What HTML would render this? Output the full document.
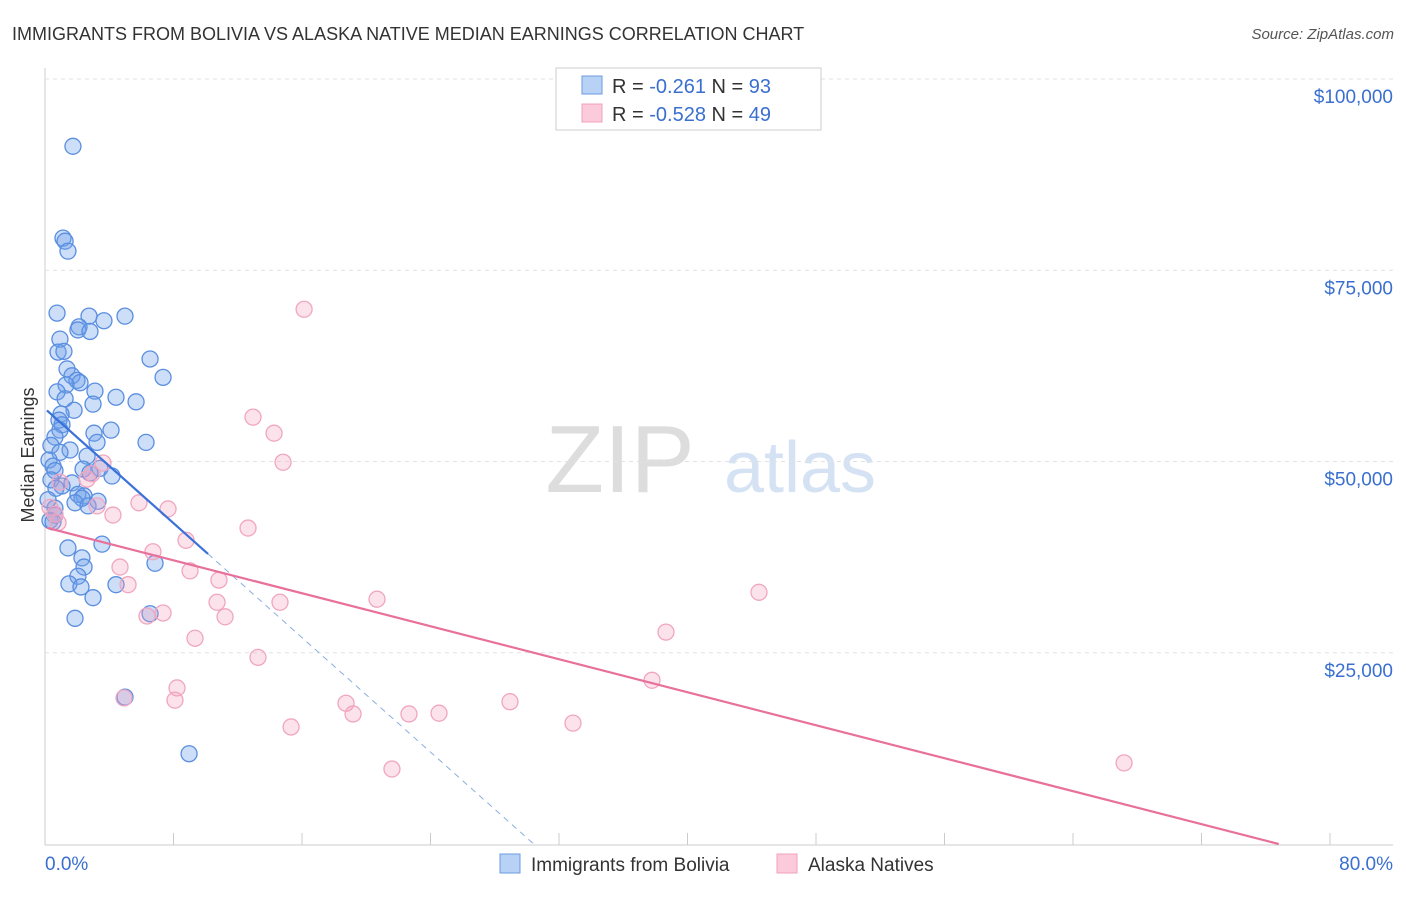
<!DOCTYPE html>
<html><head><meta charset="utf-8"><style>
body{margin:0;background:#fff;font-family:"Liberation Sans",sans-serif}
svg text{font-family:"Liberation Sans",sans-serif}
</style></head><body>
<svg id="c" width="1406" height="892">
<text x="12" y="40" font-size="18" fill="#333">IMMIGRANTS FROM BOLIVIA VS ALASKA NATIVE MEDIAN EARNINGS CORRELATION CHART</text>
<text x="1394" y="39" font-size="15" fill="#555" text-anchor="end" font-style="italic">Source: ZipAtlas.com</text>
<text x="620" y="492" font-size="96" fill="#ddd" font-family="Liberation Serif" text-anchor="middle">ZIP</text>
<text x="800" y="492" font-size="72" fill="#d4e2f4" text-anchor="middle">atlas</text>
<text x="34" y="455" font-size="18" fill="#333" text-anchor="middle" transform="rotate(-90 34 455)">Median Earnings</text>
<g id="grid"></g><g id="pts"></g><g id="lines"></g>
<g>
<rect x="556" y="68" width="265" height="62" fill="#fff" stroke="#ccc"/>
<rect x="582" y="76" width="20" height="18" fill="#b8d2f5" stroke="#6a9be0"/>
<text x="612" y="93" font-size="20" fill="#333">R = <tspan fill="#3a6fd0"> -0.261</tspan>   N = <tspan fill="#3a6fd0">93</tspan></text>
<rect x="582" y="104" width="20" height="18" fill="#fbcadb" stroke="#f0a0bc"/>
<text x="612" y="121" font-size="20" fill="#333">R = <tspan fill="#3a6fd0">-0.528</tspan>   N = <tspan fill="#3a6fd0">49</tspan></text>
</g>
<g>
<rect x="500" y="854" width="20" height="19" fill="#b8d2f5" stroke="#6a9be0"/>
<text x="531" y="871" font-size="19" fill="#333">Immigrants from Bolivia</text>
<rect x="777" y="854" width="20" height="19" fill="#fbcadb" stroke="#f0a0bc"/>
<text x="808" y="871" font-size="19" fill="#333">Alaska Natives</text>
</g>
<text x="45" y="870" font-size="19" fill="#3a6fd0">0.0%</text>
<text x="1393" y="870" font-size="19" fill="#3a6fd0" text-anchor="end">80.0%</text>
</svg>
<script>
const yTicks=[25000,50000,75000,100000];
const yTickLabels=["$25,000","$50,000","$75,000","$100,000"];
const blueX=[1.74,1.12,1.25,1.43,0.75,2.74,4.98,3.67,2.12,2.05,2.8,0.93,0.81,1.18,6.54,7.35,1.37,1.68,1.99,2.18,1.31,0.75,3.11,4.42,1.25,2.99,5.67,1.81,1.0,0.87,1.06,0.93,4.11,3.05,6.29,3.24,0.62,0.37,1.56,0.93,2.62,0.25,0.5,3.42,2.37,0.62,2.8,4.17,0.37,1.68,1.06,0.68,2.05,2.43,2.3,3.3,1.87,2.68,0.62,0.31,0.5,1.43,3.55,2.3,2.43,2.05,1.49,4.42,2.24,2.99,6.85,1.87,6.54,4.98,8.97,0.19,0.62];
const blueY=[91200,79200,78800,77500,69400,69000,69000,68400,67600,67200,67000,66000,64300,64400,63400,61000,62100,61200,60600,60300,60000,59100,59200,58400,58200,57500,57800,56700,56200,55400,54800,54100,54100,53700,52500,52500,53200,52100,51500,51200,50700,50200,49400,49100,49000,48800,48500,48100,47600,47200,46800,46500,45700,45500,45200,44800,44600,44200,43900,42300,42100,38700,39200,37400,36200,35000,34000,33900,33600,32200,36700,29500,30100,19200,11800,45000,43000];
const pinkX=[16.13,12.95,14.26,14.82,3.61,2.93,2.62,0.93,0.31,0.62,0.81,4.23,7.66,5.85,3.24,6.72,8.78,12.64,4.67,5.17,9.03,10.83,10.71,14.63,20.67,6.35,7.35,11.21,9.34,13.26,44.45,38.66,37.79,8.22,8.09,4.92,18.74,19.18,28.95,22.66,24.53,32.87,15.32,21.6,67.18];
const pinkY=[69900,55800,53700,49900,49800,48400,47700,47300,44000,43100,42000,43000,43800,44600,44200,38200,39700,41300,36200,33900,35700,34500,31600,31600,32000,29800,30200,29700,26900,24400,32900,27700,21400,20400,18800,19100,18400,17000,18600,17000,17100,15800,15300,9800,10600];
const blueFit=[56900,-1870];
const pinkFit=[41400,-539];
const NS='http://www.w3.org/2000/svg';
const X=v=>45+v/80*1285, Y=v=>844-v/100000*765;
function mk(t,a,p){const e=document.createElementNS(NS,t);for(const k in a)e.setAttribute(k,a[k]);p.appendChild(e);return e;}
const g=document.getElementById('grid');
mk('line',{x1:45,y1:68,x2:45,y2:845,stroke:'#ccc'},g);
mk('line',{x1:45,y1:845,x2:1393,y2:845,stroke:'#ccc'},g);
for(let i=1;i<=10;i++){mk('line',{x1:X(i*8),y1:845,x2:X(i*8),y2:833,stroke:'#ccc'},g);}
yTicks.forEach((t,i)=>{
 const l=mk('line',{x1:45,y1:Y(t),x2:1393,y2:Y(t),stroke:'#e2e2e2','stroke-dasharray':'4,4'},g);
 
 
 const tx=mk('text',{x:1393,y:Y(t)+24,'font-size':19,fill:'#3a6fd0','text-anchor':'end'},g);
 tx.textContent=yTickLabels[i];
 
 
});
const p=document.getElementById('pts');
blueX.forEach((x,i)=>{const c=mk('circle',{cx:X(x),cy:Y(blueY[i]),r:8,fill:'rgba(110,160,235,0.35)',stroke:'#5a8ee0','stroke-width':1.3},p);
 
 });
pinkX.forEach((x,i)=>{const c=mk('circle',{cx:X(x),cy:Y(pinkY[i]),r:8,fill:'rgba(245,160,190,0.3)',stroke:'#f0a6c0','stroke-width':1.3},p);
 
 });
const L=document.getElementById('lines');
const bf=x=>blueFit[0]+blueFit[1]*x, pf=x=>pinkFit[0]+pinkFit[1]*x;
const b1=mk('line',{x1:X(0.12),y1:Y(bf(0.12)),x2:X(10.15),y2:Y(bf(10.15)),stroke:'#3a72d8','stroke-width':2.2},L);


const xz=-blueFit[0]/blueFit[1];
const b2=mk('line',{x1:X(10.15),y1:Y(bf(10.15)),x2:X(xz),y2:Y(0),stroke:'#8aaee0','stroke-width':1,'stroke-dasharray':'6,5'},L);


const pz=-pinkFit[0]/pinkFit[1];
const p1=mk('line',{x1:X(0.12),y1:Y(pf(0.12)),x2:X(pz),y2:Y(0),stroke:'#e8709a','stroke-width':2.2},L);


</script>
</body></html>
